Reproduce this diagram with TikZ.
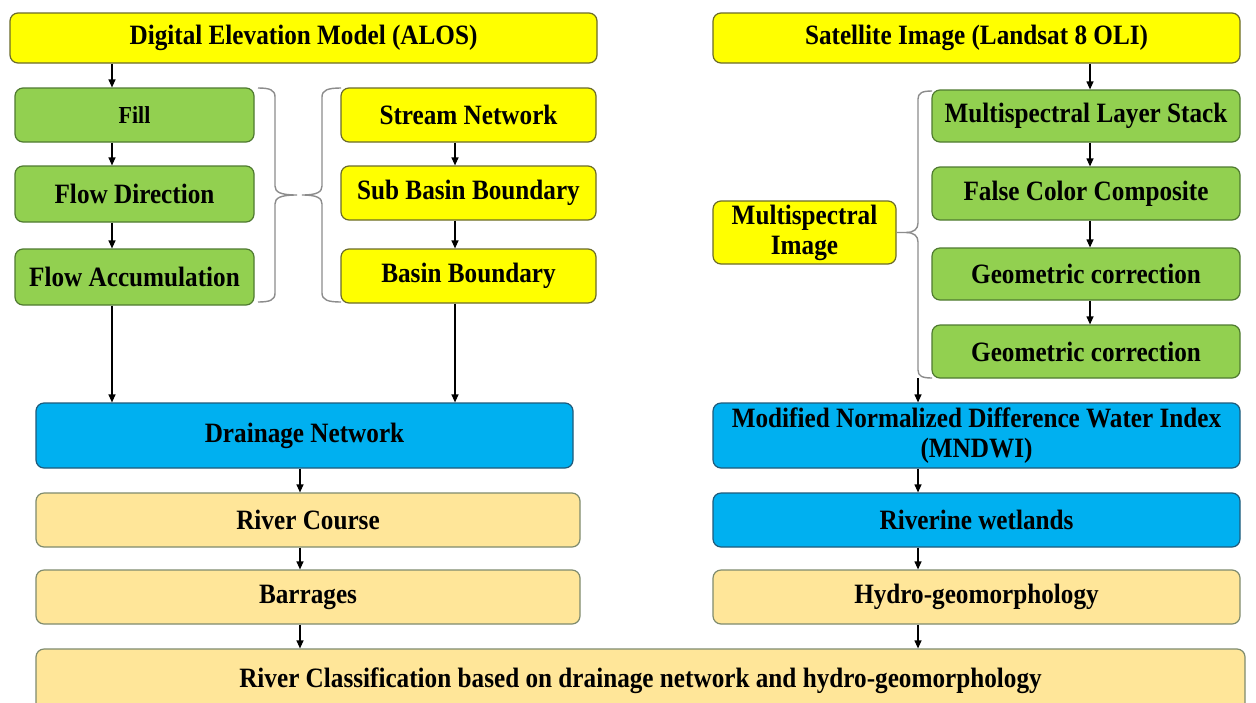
\documentclass[tikz,border=0pt]{standalone}
\usepackage{fontspec}
\setmainfont[FakeStretch=0.9]{Liberation Serif}
\usetikzlibrary{arrows.meta}
\definecolor{ylwfill}{HTML}{FFFF00}
\definecolor{ylwdraw}{HTML}{6B6B2A}
\definecolor{grnfill}{HTML}{92D050}
\definecolor{grndraw}{HTML}{4F7A30}
\definecolor{blufill}{HTML}{00B0F0}
\definecolor{bludraw}{HTML}{1F5A7A}
\definecolor{tanfill}{HTML}{FFE699}
\definecolor{tandraw}{HTML}{7E8B6E}
\definecolor{brkcol}{HTML}{8C8C8C}
\begin{document}
\begin{tikzpicture}[x=0.5pt,y=-0.5pt,
  box/.style={draw, rounded corners=4pt, line width=0.6pt, align=center,
    font=\fontsize{14}{15}\selectfont\bfseries, inner sep=0pt},
  ybox/.style={box, fill=ylwfill, draw=ylwdraw},
  gbox/.style={box, fill=grnfill, draw=grndraw},
  bbox/.style={box, fill=blufill, draw=bludraw},
  tbox/.style={box, fill=tanfill, draw=tandraw},
  arr/.style={-{Triangle[length=4pt,width=3.5pt]}, line width=0.6pt},
  brk/.style={draw=brkcol, line width=0.7pt}]
\useasboundingbox (0,0) rectangle (1256,702);
\clip (0,0) rectangle (1256,702);
\fill[white] (0,0) rectangle (1256,702);

\coordinate (c1) at (112,0);
\coordinate (c2) at (455,0);
\coordinate (c3) at (1090,0);
\coordinate (c4) at (918,0);
\coordinate (c5) at (300,0);

\node[ybox, minimum width=293.5pt, minimum height=25pt] (dem) at (303.5,38) {Digital Elevation Model (ALOS)};
\node[ybox, minimum width=263.5pt, minimum height=25pt] (sat) at (976.5,38) {Satellite Image (Landsat 8 OLI)};

\node[gbox, minimum width=119.5pt, minimum height=27pt, font=\fontsize{12.2}{14}\selectfont\bfseries] (fill) at (134.5,115) {Fill};
\node[gbox, minimum width=119.5pt, minimum height=28pt] (fdir) at (134.5,194) {Flow Direction};
\node[gbox, minimum width=119.5pt, minimum height=28pt] (facc) at (134.5,277) {Flow Accumulation};

\node[ybox, minimum width=127.5pt, minimum height=27pt] (stream) at (468.5,115) {Stream Network};
\node[ybox, minimum width=127.5pt, minimum height=27pt] (sub) at (468.5,193) {Sub Basin Boundary};
\node[ybox, minimum width=127.5pt, minimum height=27pt] (basin) at (468.5,276) {Basin Boundary};

\node[gbox, minimum width=154pt, minimum height=26pt] (mls) at (1086,116) {Multispectral Layer Stack};
\node[gbox, minimum width=154pt, minimum height=26.5pt] (fcc) at (1086,193.5) {False Color Composite};
\node[gbox, minimum width=154pt, minimum height=26pt] (gc1) at (1086,274) {Geometric correction};
\node[gbox, minimum width=154pt, minimum height=26.5pt] (gc2) at (1086,351.5) {Geometric correction};

\node[ybox, minimum width=91.5pt, minimum height=31.5pt] (mi) at (804.5,232.5) {Multispectral\\Image};

\node[bbox, minimum width=268.5pt, minimum height=32.5pt] (drain) at (304.5,435.5) {Drainage Network};
\node[bbox, minimum width=263.5pt, minimum height=32.5pt] (mndwi) at (976.5,435.5) {Modified Normalized Difference Water Index\\(MNDWI)};

\node[tbox, minimum width=272pt, minimum height=27pt] (course) at (308,520) {River Course};
\node[bbox, minimum width=263.5pt, minimum height=27pt] (wet) at (976.5,520) {Riverine wetlands};
\node[tbox, minimum width=272pt, minimum height=27pt] (barr) at (308,597) {Barrages};
\node[tbox, minimum width=263.5pt, minimum height=27pt] (hydro) at (976.5,597) {Hydro-geomorphology};

\node[tbox, minimum width=604.5pt, minimum height=31.5pt] (rc) at (640.5,680.5) {River Classification based on drainage network and hydro-geomorphology};

% left column arrows
\draw[arr] (dem.south -| c1) -- (fill.north -| c1);
\draw[arr] (fill.south -| c1) -- (fdir.north -| c1);
\draw[arr] (fdir.south -| c1) -- (facc.north -| c1);
\draw[arr] (facc.south -| c1) -- (drain.north -| c1);
\draw[arr] (stream.south -| c2) -- (sub.north -| c2);
\draw[arr] (sub.south -| c2) -- (basin.north -| c2);
\draw[arr] (basin.south -| c2) -- (drain.north -| c2);
\draw[arr] (drain.south -| c5) -- (course.north -| c5);
\draw[arr] (course.south -| c5) -- (barr.north -| c5);
\draw[arr] (barr.south -| c5) -- (rc.north -| c5);

% right column arrows
\draw[arr] (sat.south -| c3) -- (mls.north -| c3);
\draw[arr] (mls.south -| c3) -- (fcc.north -| c3);
\draw[arr] (fcc.south -| c3) -- (gc1.north -| c3);
\draw[arr] (gc1.south -| c3) -- (gc2.north -| c3);

% bracket from multispectral image
\coordinate (bt) at (918,378);
\draw[brk] (mi.east) -- (906,232.5) .. controls (914,232.5) and (918,229) .. (918,223) -- (918,99) .. controls (918,93) and (922,91) .. (932,91);
\draw[brk] (906,232.5) .. controls (914,232.5) and (918,236) .. (918,242) -- (918,370) .. controls (918,376) and (922,378) .. (932,378);
\draw[arr] (bt) -- (mndwi.north -| bt);
\draw[arr] (mndwi.south -| c4) -- (wet.north -| c4);
\draw[arr] (wet.south -| c4) -- (hydro.north -| c4);
\draw[arr] (hydro.south -| c4) -- (rc.north -| c4);

% braces
\draw[brk] (258,88) .. controls (270,88) and (275,90) .. (275,97) -- (275,186) .. controls (275,192) and (280,195) .. (297,195) .. controls (280,195) and (275,198) .. (275,204) -- (275,293) .. controls (275,300) and (270,302) .. (258,302);
\draw[brk] (341,88) .. controls (328,88) and (322,90) .. (322,97) -- (322,186) .. controls (322,192) and (317,195) .. (302,195) .. controls (317,195) and (322,198) .. (322,204) -- (322,293) .. controls (322,300) and (328,302) .. (341,302);
\end{tikzpicture}
\end{document}
